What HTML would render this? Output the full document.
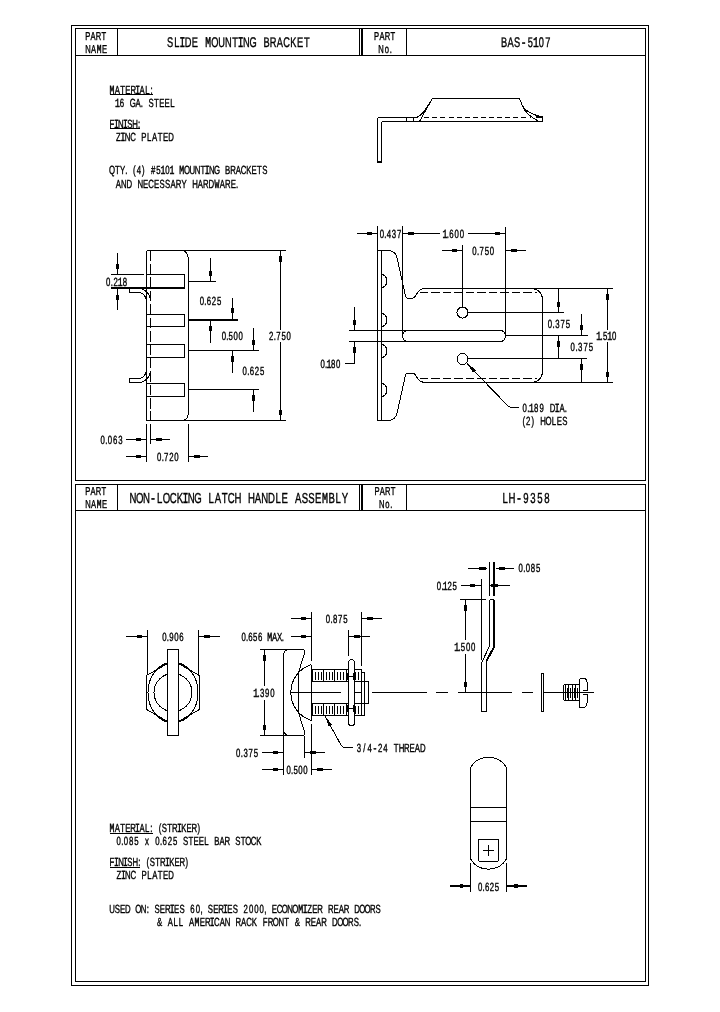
<!DOCTYPE html>
<html><head><meta charset="utf-8"><title>BAS-5107 / LH-9358</title>
<style>
html,body{margin:0;padding:0;background:#fff;}
body{width:720px;height:1012px;overflow:hidden;font-family:"Liberation Sans",sans-serif;}
svg{display:block;}
.t tspan.m{font-family:"Liberation Mono",monospace;stroke-width:0.55px;}
.t text{font-family:"Liberation Sans",sans-serif;fill:#000;stroke:#000;stroke-width:0.4px;text-anchor:middle;white-space:pre;text-rendering:geometricPrecision;}
</style></head><body>
<svg width="720" height="1012" viewBox="0 0 720 1012">
<rect x="0" y="0" width="720" height="1012" fill="#fff"/>
<g class="g" stroke="#000" stroke-width="1" fill="none" shape-rendering="crispEdges">
<rect x="71.5" y="25.5" width="577" height="960"/>
<rect x="75.5" y="28.5" width="570" height="452"/>
<rect x="75.5" y="484.5" width="570" height="497"/>
<line x1="75.5" y1="55.5" x2="645.5" y2="55.5"/>
<line x1="117.5" y1="28.5" x2="117.5" y2="55.5"/>
<line x1="359.5" y1="28.5" x2="359.5" y2="55.5"/>
<line x1="406.5" y1="28.5" x2="406.5" y2="55.5"/>
<line x1="362" y1="28.5" x2="362" y2="55.5" stroke-width="2"/>
<line x1="75.5" y1="510.5" x2="645.5" y2="510.5"/>
<line x1="117.5" y1="484.5" x2="117.5" y2="510.5"/>
<line x1="359.5" y1="484.5" x2="359.5" y2="510.5"/>
<line x1="406.5" y1="484.5" x2="406.5" y2="510.5"/>
<line x1="362" y1="484.5" x2="362" y2="510.5" stroke-width="2"/>
<line x1="146.5" y1="250.5" x2="146.5" y2="420.5"/>
<line x1="146.5" y1="250.5" x2="286" y2="250.5"/>
<line x1="146.5" y1="420.5" x2="286" y2="420.5"/>
<path d="M181.5,250.5 Q188.5,251 188.5,261.5 L188.5,411.5 Q188.5,419 183.5,420.5"/>
<line x1="150.5" y1="250.5" x2="150.5" y2="420.5" stroke-dasharray="10.7 2.7"/>
<line x1="146.5" y1="274.5" x2="184.5" y2="274.5"/>
<line x1="146.5" y1="288.5" x2="184.5" y2="288.5"/>
<line x1="184.5" y1="274.5" x2="184.5" y2="288.5"/>
<line x1="146.5" y1="314.5" x2="184.5" y2="314.5"/>
<line x1="146.5" y1="326.5" x2="184.5" y2="326.5"/>
<line x1="184.5" y1="314.5" x2="184.5" y2="326.5"/>
<line x1="146.5" y1="344.5" x2="184.5" y2="344.5"/>
<line x1="146.5" y1="357.5" x2="184.5" y2="357.5"/>
<line x1="184.5" y1="344.5" x2="184.5" y2="357.5"/>
<line x1="146.5" y1="383.5" x2="184.5" y2="383.5"/>
<line x1="146.5" y1="396.5" x2="184.5" y2="396.5"/>
<line x1="184.5" y1="383.5" x2="184.5" y2="396.5"/>
<line x1="111" y1="288" x2="184.5" y2="288" stroke-width="2"/>
<line x1="111" y1="274.5" x2="143.5" y2="274.5"/>
<line x1="117.5" y1="252.5" x2="117.5" y2="274.5"/>
<polygon fill="#000" stroke="none" points="117.5,274.5 115.55,263.5 119.45,263.5"/>
<line x1="117.5" y1="310" x2="117.5" y2="289"/>
<polygon fill="#000" stroke="none" points="117.5,289 115.55,300 119.45,300"/>
<line x1="188.5" y1="281.5" x2="216" y2="281.5"/>
<line x1="188.5" y1="320" x2="238" y2="320" stroke-width="2"/>
<line x1="188.5" y1="350.5" x2="259" y2="350.5"/>
<line x1="188.5" y1="389.5" x2="259" y2="389.5"/>
<line x1="210.5" y1="258" x2="210.5" y2="281.5"/>
<polygon fill="#000" stroke="none" points="210.5,281.5 208.55,270.5 212.45,270.5"/>
<line x1="210.5" y1="342.5" x2="210.5" y2="320"/>
<polygon fill="#000" stroke="none" points="210.5,320 208.55,331 212.45,331"/>
<line x1="232.5" y1="298" x2="232.5" y2="319"/>
<polygon fill="#000" stroke="none" points="232.5,319 230.55,308 234.45,308"/>
<line x1="232.5" y1="372.5" x2="232.5" y2="350.5"/>
<polygon fill="#000" stroke="none" points="232.5,350.5 230.55,361.5 234.45,361.5"/>
<line x1="253.5" y1="327.5" x2="253.5" y2="350.5"/>
<polygon fill="#000" stroke="none" points="253.5,350.5 251.55,339.5 255.45,339.5"/>
<line x1="253.5" y1="411.5" x2="253.5" y2="389.5"/>
<polygon fill="#000" stroke="none" points="253.5,389.5 251.55,400.5 255.45,400.5"/>
<line x1="280.5" y1="330" x2="280.5" y2="250.5"/>
<polygon fill="#000" stroke="none" points="280.5,250.5 278.55,261.5 282.45,261.5"/>
<line x1="280.5" y1="341.5" x2="280.5" y2="420.5"/>
<polygon fill="#000" stroke="none" points="280.5,420.5 278.55,409.5 282.45,409.5"/>
<line x1="146.5" y1="424" x2="146.5" y2="461.5"/>
<line x1="150.5" y1="424" x2="150.5" y2="444"/>
<line x1="188.5" y1="424" x2="188.5" y2="461.5"/>
<line x1="126" y1="439.5" x2="146.5" y2="439.5"/>
<polygon fill="#000" stroke="none" points="146.5,439.5 135.5,437.55 135.5,441.45"/>
<line x1="170" y1="439.5" x2="150.5" y2="439.5"/>
<polygon fill="#000" stroke="none" points="150.5,439.5 161.5,437.55 161.5,441.45"/>
<line x1="126" y1="456.5" x2="146.5" y2="456.5"/>
<polygon fill="#000" stroke="none" points="146.5,456.5 135.5,454.55 135.5,458.45"/>
<line x1="208" y1="456.5" x2="188.5" y2="456.5"/>
<polygon fill="#000" stroke="none" points="188.5,456.5 199.5,454.55 199.5,458.45"/>
<path d="M138.3,288.5 A12,12 0 0 1 150.3,300.5 M146.3,300.5 A8,8 0 0 0 138.3,292.5 L129.5,292.5 L129.5,288.5"/>
<path d="M138.3,382.5 A12,12 0 0 0 150.3,370.5 M146.3,370.5 A8,8 0 0 1 138.3,378.5 L129.5,378.5 L129.5,382.5 L138.3,382.5"/>
<line x1="377.5" y1="117.5" x2="377.5" y2="162"/>
<line x1="381.5" y1="121.5" x2="381.5" y2="162"/>
<line x1="377" y1="162" x2="382" y2="162" stroke-width="2"/>
<line x1="377.5" y1="117.5" x2="418" y2="117.5"/>
<line x1="381.5" y1="121.5" x2="542.5" y2="121.5"/>
<line x1="406.5" y1="117.5" x2="406.5" y2="121.5"/>
<line x1="413.5" y1="117.5" x2="413.5" y2="121.5"/>
<line x1="424.2" y1="117.5" x2="531" y2="117.5" stroke-dasharray="5 3.1"/>
<line x1="432.5" y1="98.5" x2="519.5" y2="98.5"/>
<path d="M432.5,98.5 L425,110 Q421.5,115.5 417,117"/>
<path d="M432.5,98.5 L427.5,107 L419.5,121.5"/>
<path d="M519.5,98.5 L522.5,106 Q527,113.5 542.5,117"/>
<path d="M522.5,106 Q526,115 539,121.5"/>
<line x1="542.5" y1="117" x2="542.5" y2="121.5"/>
<line x1="536" y1="117" x2="542.5" y2="117" stroke-width="2"/>
<line x1="377.5" y1="226" x2="377.5" y2="420.5"/>
<line x1="381.5" y1="250.5" x2="381.5" y2="420.5"/>
<path d="M377.5,250.5 L389,250.5 Q395,251 397,257.5 L405.4,295.6 Q405.9,298 407.5,298 L413,298 Q414,298 414.8,296.8 L418.5,291.5 Q420.8,288.5 426,288.5 L531.5,288.5 A11,11 0 0 1 542.5,299.5 L542.5,335.5"/>
<path d="M 377.5,420.5 L 389,420.5 Q 395,420 397,413.5 L 405.4,375.4 Q 405.9,373 407.5,373 L 413,373 Q 414,373 414.8,374.2 L 418.5,379.5 Q 420.8,382.5 426,382.5 L 531.5,382.5 A11,11 0 0 0 542.5,371.5 L 542.5,335.5"/>
<line x1="532.5" y1="288.5" x2="613" y2="288.5"/>
<line x1="532.5" y1="382.5" x2="613" y2="382.5"/>
<line x1="419.5" y1="292.5" x2="536.5" y2="292.5" stroke-dasharray="8.5 3"/>
<line x1="419.5" y1="378.5" x2="536.5" y2="378.5" stroke-dasharray="8.5 3"/>
<path d="M381.5,274.5 A5.5,6.5 0 0 1 381.5,287.5"/>
<path d="M381.5,313.5 A5.5,6.5 0 0 1 381.5,326.5"/>
<path d="M381.5,344.5 A5.5,6.5 0 0 1 381.5,357.5"/>
<path d="M381.5,383.5 A5.5,6.5 0 0 1 381.5,396.5"/>
<line x1="402.5" y1="226" x2="402.5" y2="336"/>
<line x1="505.5" y1="227" x2="505.5" y2="336"/>
<line x1="349" y1="330.5" x2="500.5" y2="330.5"/>
<line x1="349" y1="341.5" x2="500.5" y2="341.5"/>
<path d="M500.5,330.5 A5,5.5 0 0 1 500.5,341.5"/>
<path d="M407.5,330.5 A5,5.5 0 0 0 407.5,341.5"/>
<line x1="505.5" y1="335.5" x2="587.5" y2="335.5"/>
<line x1="354.5" y1="307" x2="354.5" y2="330.5"/>
<polygon fill="#000" stroke="none" points="354.5,330.5 352.55,319.5 356.45,319.5"/>
<line x1="354.5" y1="363.5" x2="354.5" y2="341.5"/>
<polygon fill="#000" stroke="none" points="354.5,341.5 352.55,352.5 356.45,352.5"/>
<line x1="344.5" y1="363.5" x2="354.5" y2="363.5"/>
<circle cx="462.5" cy="312.5" r="5.5"/>
<circle cx="462.5" cy="359" r="5.5"/>
<line x1="468" y1="312.5" x2="564" y2="312.5"/>
<line x1="468" y1="358.5" x2="587" y2="358.5"/>
<line x1="462.5" y1="244.5" x2="462.5" y2="307"/>
<line x1="357" y1="233.5" x2="377.5" y2="233.5"/>
<polygon fill="#000" stroke="none" points="377.5,233.5 366.5,231.55 366.5,235.45"/>
<line x1="440" y1="233.5" x2="402.5" y2="233.5"/>
<polygon fill="#000" stroke="none" points="402.5,233.5 413.5,231.55 413.5,235.45"/>
<line x1="467.5" y1="233.5" x2="505.5" y2="233.5"/>
<polygon fill="#000" stroke="none" points="505.5,233.5 494.5,231.55 494.5,235.45"/>
<line x1="442" y1="250.5" x2="462.5" y2="250.5"/>
<polygon fill="#000" stroke="none" points="462.5,250.5 451.5,248.55 451.5,252.45"/>
<line x1="525.5" y1="250.5" x2="505.5" y2="250.5"/>
<polygon fill="#000" stroke="none" points="505.5,250.5 516.5,248.55 516.5,252.45"/>
<line x1="558.5" y1="288.5" x2="558.5" y2="312.5"/>
<polygon fill="#000" stroke="none" points="558.5,312.5 556.55,301.5 560.45,301.5"/>
<line x1="558.5" y1="358.5" x2="558.5" y2="335.5"/>
<polygon fill="#000" stroke="none" points="558.5,335.5 556.55,346.5 560.45,346.5"/>
<line x1="581.5" y1="313.5" x2="581.5" y2="335.5"/>
<polygon fill="#000" stroke="none" points="581.5,335.5 579.55,324.5 583.45,324.5"/>
<line x1="581.5" y1="382.5" x2="581.5" y2="358.5"/>
<polygon fill="#000" stroke="none" points="581.5,358.5 579.55,369.5 583.45,369.5"/>
<line x1="607.5" y1="330" x2="607.5" y2="288.5"/>
<polygon fill="#000" stroke="none" points="607.5,288.5 605.55,299.5 609.45,299.5"/>
<line x1="607.5" y1="341.5" x2="607.5" y2="382.5"/>
<polygon fill="#000" stroke="none" points="607.5,382.5 605.55,371.5 609.45,371.5"/>
<path d="M467,363.5 L507,405 Q509,407.5 512,407.5 L518.5,407.5"/>
<polygon fill="#000" stroke="none" points="467,363.5 473.23,372.77 476.04,370.07"/>
<line x1="147.5" y1="630" x2="147.5" y2="675"/>
<line x1="198.5" y1="630" x2="198.5" y2="675"/>
<line x1="126.25" y1="636.5" x2="147.5" y2="636.5"/>
<polygon fill="#000" stroke="none" points="147.5,636.5 136.5,634.55 136.5,638.45"/>
<line x1="220" y1="636.5" x2="198.5" y2="636.5"/>
<polygon fill="#000" stroke="none" points="198.5,636.5 209.5,634.55 209.5,638.45"/>
<path d="M173,660.5 L199.5,675.5 L199.5,709.5 L173,724.5 L146.5,709.5 L146.5,675.5 Z"/>
<ellipse cx="173" cy="692.5" rx="25" ry="30.3"/>
<circle cx="173" cy="692.5" r="19"/>
<rect x="167.5" y="649.5" width="11" height="86" fill="#fff"/>
<line x1="259.5" y1="649.5" x2="303" y2="649.5"/>
<line x1="259.5" y1="735.5" x2="303" y2="735.5"/>
<line x1="264.5" y1="686" x2="264.5" y2="649.5"/>
<polygon fill="#000" stroke="none" points="264.5,649.5 262.55,660.5 266.45,660.5"/>
<line x1="264.5" y1="700" x2="264.5" y2="735.5"/>
<polygon fill="#000" stroke="none" points="264.5,735.5 262.55,724.5 266.45,724.5"/>
<path d="M283.5,775 L283.5,654.5 Q284,650.5 288.5,649.5 L303,649.5 Q305.5,650 304.5,653 L298.5,672.5 L298.5,712.5 L304.5,732 Q305.5,735 303,735.5 L288.5,735.5 Q284,734.5 283.5,730.5"/>
<line x1="304.5" y1="735.5" x2="304.5" y2="757.5"/>
<path d="M311.5,664.5 A29.3,29.3 0 0 0 311.5,720.5"/>
<line x1="311.5" y1="612" x2="311.5" y2="660.5"/>
<line x1="311.5" y1="664.5" x2="311.5" y2="720.5"/>
<line x1="311.5" y1="724" x2="311.5" y2="775"/>
<line x1="290" y1="692.5" x2="340.5" y2="692.5"/>
<line x1="350" y1="692.5" x2="361.5" y2="692.5"/>
<line x1="311.5" y1="669.5" x2="361.5" y2="669.5"/>
<line x1="311.5" y1="681.5" x2="361.5" y2="681.5"/>
<line x1="323.5" y1="669.5" x2="323.5" y2="681.5"/>
<line x1="334.5" y1="669.5" x2="334.5" y2="681.5"/>
<line x1="346.5" y1="669.5" x2="346.5" y2="681.5"/>
<line x1="315.5" y1="672" x2="315.5" y2="679.5"/>
<line x1="318.5" y1="672" x2="318.5" y2="679.5"/>
<line x1="321.5" y1="672" x2="321.5" y2="679.5"/>
<line x1="326.5" y1="672" x2="326.5" y2="679.5"/>
<line x1="329.5" y1="672" x2="329.5" y2="679.5"/>
<line x1="332.5" y1="672" x2="332.5" y2="679.5"/>
<line x1="337.5" y1="672" x2="337.5" y2="679.5"/>
<line x1="340.5" y1="672" x2="340.5" y2="679.5"/>
<line x1="343.5" y1="672" x2="343.5" y2="679.5"/>
<line x1="358.5" y1="672" x2="358.5" y2="679.5"/>
<line x1="312.5" y1="669.5" x2="312.5" y2="681.5"/>
<line x1="355.5" y1="671.5" x2="355.5" y2="679.5"/>
<line x1="311.5" y1="703.5" x2="361.5" y2="703.5"/>
<line x1="311.5" y1="715.5" x2="361.5" y2="715.5"/>
<line x1="323.5" y1="703.5" x2="323.5" y2="715.5"/>
<line x1="334.5" y1="703.5" x2="334.5" y2="715.5"/>
<line x1="346.5" y1="703.5" x2="346.5" y2="715.5"/>
<line x1="315.5" y1="706" x2="315.5" y2="713.5"/>
<line x1="318.5" y1="706" x2="318.5" y2="713.5"/>
<line x1="321.5" y1="706" x2="321.5" y2="713.5"/>
<line x1="326.5" y1="706" x2="326.5" y2="713.5"/>
<line x1="329.5" y1="706" x2="329.5" y2="713.5"/>
<line x1="332.5" y1="706" x2="332.5" y2="713.5"/>
<line x1="337.5" y1="706" x2="337.5" y2="713.5"/>
<line x1="340.5" y1="706" x2="340.5" y2="713.5"/>
<line x1="343.5" y1="706" x2="343.5" y2="713.5"/>
<line x1="358.5" y1="706" x2="358.5" y2="713.5"/>
<line x1="312.5" y1="703.5" x2="312.5" y2="715.5"/>
<line x1="355.5" y1="705.5" x2="355.5" y2="713.5"/>
<line x1="361.5" y1="669.5" x2="361.5" y2="715.5"/>
<line x1="361.5" y1="612" x2="361.5" y2="665.5"/>
<rect x="348.5" y="659.5" width="6" height="66" fill="#fff" rx="3"/>
<line x1="348.5" y1="630" x2="348.5" y2="655.5"/>
<line x1="348.5" y1="676.5" x2="354.5" y2="676.5"/>
<line x1="348" y1="673" x2="348" y2="680" stroke-width="2"/>
<line x1="354" y1="673" x2="354" y2="680" stroke-width="2"/>
<line x1="348.5" y1="708.5" x2="354.5" y2="708.5"/>
<line x1="348" y1="705" x2="348" y2="712" stroke-width="2"/>
<line x1="354" y1="705" x2="354" y2="712" stroke-width="2"/>
<path d="M361.5,672.5 L364.5,672.5 L364.5,715.5 L361.5,715.5"/>
<path d="M364.5,681.5 L368.5,681.5 L368.5,703.5 L364.5,703.5"/>
<line x1="354.5" y1="681.5" x2="368.5" y2="681.5"/>
<line x1="354.5" y1="703.5" x2="368.5" y2="703.5"/>
<line x1="291.25" y1="618.5" x2="311.5" y2="618.5"/>
<polygon fill="#000" stroke="none" points="311.5,618.5 300.5,616.55 300.5,620.45"/>
<line x1="381.7" y1="618.5" x2="361.5" y2="618.5"/>
<polygon fill="#000" stroke="none" points="361.5,618.5 372.5,616.55 372.5,620.45"/>
<line x1="291.25" y1="636.5" x2="311.5" y2="636.5"/>
<polygon fill="#000" stroke="none" points="311.5,636.5 300.5,634.55 300.5,638.45"/>
<line x1="369.8" y1="636.5" x2="348.5" y2="636.5"/>
<polygon fill="#000" stroke="none" points="348.5,636.5 359.5,634.55 359.5,638.45"/>
<line x1="262" y1="752.5" x2="283.5" y2="752.5"/>
<polygon fill="#000" stroke="none" points="283.5,752.5 272.5,750.55 272.5,754.45"/>
<line x1="324.8" y1="752.5" x2="304.5" y2="752.5"/>
<polygon fill="#000" stroke="none" points="304.5,752.5 315.5,750.55 315.5,754.45"/>
<line x1="262" y1="769.5" x2="283.5" y2="769.5"/>
<polygon fill="#000" stroke="none" points="283.5,769.5 272.5,767.55 272.5,771.45"/>
<line x1="332" y1="769.5" x2="311.5" y2="769.5"/>
<polygon fill="#000" stroke="none" points="311.5,769.5 322.5,767.55 322.5,771.45"/>
<path d="M325,716 L341,745 Q342.5,747.5 345,747.5 L353,747.5"/>
<polygon fill="#000" stroke="none" points="325,716 328.58,726.58 332,724.71"/>
<line x1="489.5" y1="562" x2="489.5" y2="595.5"/>
<line x1="494" y1="562" x2="494" y2="595.5" stroke-width="2"/>
<line x1="468.3" y1="568.5" x2="487" y2="568.5"/>
<line x1="479" y1="568.5" x2="486" y2="568.5" stroke-width="3"/>
<line x1="496" y1="568.5" x2="513.8" y2="568.5"/>
<line x1="499" y1="568.5" x2="504.5" y2="568.5" stroke-width="3"/>
<line x1="461.2" y1="585.5" x2="481" y2="585.5"/>
<polygon fill="#000" stroke="none" points="481,585.5 470,583.55 470,587.45"/>
<line x1="481.5" y1="579" x2="481.5" y2="659.5"/>
<line x1="490" y1="585.5" x2="509.7" y2="585.5"/>
<line x1="491" y1="585.5" x2="498" y2="585.5" stroke-width="3"/>
<path d="M489.5,599.5 L489.5,646 L481.5,663 L481.5,711.5 L486.5,711.5 L486.5,661"/>
<path d="M489.5,599.5 L493.5,599.5"/>
<path d="M494,599.5 L494,647 L486.5,661" stroke-width="2"/>
<line x1="460" y1="599.5" x2="486" y2="599.5"/>
<line x1="465.5" y1="639.5" x2="465.5" y2="599.5"/>
<polygon fill="#000" stroke="none" points="465.5,599.5 463.55,610.5 467.45,610.5"/>
<line x1="465.5" y1="653.5" x2="465.5" y2="692.5"/>
<polygon fill="#000" stroke="none" points="465.5,692.5 463.55,681.5 467.45,681.5"/>
<line x1="372" y1="692.5" x2="427" y2="692.5"/>
<line x1="435.5" y1="692.5" x2="448" y2="692.5"/>
<line x1="457.5" y1="692.5" x2="511.5" y2="692.5"/>
<line x1="521.5" y1="692.5" x2="532.5" y2="692.5"/>
<line x1="543.5" y1="692.5" x2="594" y2="692.5"/>
<rect x="541.5" y="673.5" width="2" height="38"/>
<path d="M579.5,684.5 L565.5,684.5 Q563.5,684.5 563.5,686.5 L563.5,698.5 Q563.5,700.5 565.5,700.5 L579.5,700.5"/>
<line x1="565.5" y1="684.5" x2="565.5" y2="700.5"/>
<line x1="568.5" y1="684.5" x2="568.5" y2="700.5"/>
<line x1="572.5" y1="684.5" x2="572.5" y2="700.5"/>
<line x1="575.5" y1="684.5" x2="575.5" y2="700.5"/>
<line x1="567.5" y1="687.5" x2="567.5" y2="697.5"/>
<line x1="570.5" y1="687.5" x2="570.5" y2="697.5"/>
<line x1="574.5" y1="687.5" x2="574.5" y2="697.5"/>
<line x1="577.5" y1="687.5" x2="577.5" y2="697.5"/>
<path d="M579.5,678.5 L584,678.5 Q587,679 587,682 L587,690 L582.5,690 M582.5,694.5 L587,694.5 L587,703 Q587,706.5 584,707.5 L579.5,707.5"/>
<line x1="579.5" y1="678.5" x2="579.5" y2="707.5"/>
<path d="M470.5,767.5 A21,21 0 0 1 506.5,767.5 L506.5,859 A21,21 0 0 1 470.5,859 Z"/>
<line x1="470.5" y1="807.5" x2="506.5" y2="807.5"/>
<line x1="470.5" y1="821.5" x2="506.5" y2="821.5"/>
<path d="M478.5,839.5 L498.5,839.5 L498.5,859.5 Q498.5,861.5 496.5,861.5 L480.5,861.5 Q478.5,861.5 478.5,859.5 Z"/>
<line x1="483" y1="850.5" x2="494" y2="850.5"/>
<line x1="488.5" y1="845" x2="488.5" y2="856"/>
<line x1="470.5" y1="863" x2="470.5" y2="892"/>
<line x1="506.5" y1="863" x2="506.5" y2="892"/>
<line x1="450" y1="886" x2="470.5" y2="886" stroke-width="2"/>
<polygon fill="#000" stroke="none" points="470.5,886 459.5,883.9 459.5,888.1"/>
<line x1="506.5" y1="886" x2="527" y2="886" stroke-width="2"/>
<polygon fill="#000" stroke="none" points="506.5,886 517.5,883.9 517.5,888.1"/>
<line x1="110" y1="94.5" x2="152.5" y2="94.5"/>
<line x1="110" y1="128.5" x2="140" y2="128.5"/>
<line x1="110" y1="833.5" x2="152.5" y2="833.5"/>
<line x1="110" y1="867.5" x2="140" y2="867.5"/>
</g>
<g class="t" style="filter:grayscale(1)">
<text transform="translate(0 286) scale(0.66 1)" x="163.73 169.5 175.27 182.29 189.3" y="0" font-size="11.8">0.2<tspan class="m" font-size="12.33">1</tspan>8</text>
<text transform="translate(0 305) scale(0.66 1)" x="305.92 311.27 316.63 324.29 331.96" y="0" font-size="11.8">0.625</text>
<text transform="translate(0 340) scale(0.66 1)" x="339.19 344.41 349.63 357.12 364.6" y="0" font-size="11.8">0.500</text>
<text transform="translate(0 374.7) scale(0.66 1)" x="370.66 376.09 381.52 389.29 397.07" y="0" font-size="11.8">0.625</text>
<text transform="translate(0 340) scale(0.66 1)" x="410.98 416.43 421.88 429.7 437.51" y="0" font-size="11.8">2.750</text>
<text transform="translate(0 443.5) scale(0.66 1)" x="155.55 161.06 166.56 174.44 182.33" y="0" font-size="11.8">0.063</text>
<text transform="translate(0 460.5) scale(0.66 1)" x="241.23 246.58 251.93 259.59 267.26" y="0" font-size="11.8">0.720</text>
<text transform="translate(0 367.5) scale(0.66 1)" x="488.91 494.19 498.32 504.74 512.3" y="0" font-size="11.8">0.<tspan class="m" font-size="12.33">1</tspan>80</text>
<text transform="translate(0 237.5) scale(0.66 1)" x="578.65 584 589.35 597.02 604.68" y="0" font-size="11.8">0.437</text>
<text transform="translate(0 237.5) scale(0.66 1)" x="674.15 678.51 684.08 692.05 700.02" y="0" font-size="11.8"><tspan class="m" font-size="12.33">1</tspan>.600</text>
<text transform="translate(0 254.5) scale(0.66 1)" x="718.87 724.35 729.83 737.68 745.52" y="0" font-size="11.8">0.750</text>
<text transform="translate(0 327.5) scale(0.66 1)" x="833.33 838.94 844.55 852.58 860.61" y="0" font-size="11.8">0.375</text>
<text transform="translate(0 351) scale(0.66 1)" x="867.84 873.51 879.18 887.3 895.42" y="0" font-size="11.8">0.375</text>
<text transform="translate(0 339.5) scale(0.66 1)" x="907.12 911.5 917.09 923.89 930.69" y="0" font-size="11.8"><tspan class="m" font-size="12.33">1</tspan>.5<tspan class="m" font-size="12.33">1</tspan>0</text>
<text transform="translate(0 411.5) scale(0.66 1)" x="794.82 800.64 805.21 812.29 820.64 828.98 837.33 844.41 851.5 857.32" y="0" font-size="11.8">0.<tspan class="m" font-size="12.33">1</tspan>89 D<tspan class="m" font-size="12.33">I</tspan>A.</text>
<text transform="translate(0 424.5) scale(0.66 1)" x="793.47 800.45 807.43 814.4 822.71 831.02 839.33 847.64 855.95" y="0" font-size="11.8">(2) HOLES</text>
<text transform="translate(0 640.5) scale(0.66 1)" x="249.07 254.36 259.65 267.22 274.79" y="0" font-size="11.8">0.906</text>
<text transform="translate(0 697) scale(0.66 1)" x="387.37 391.62 397.05 404.82 412.6" y="0" font-size="11.8"><tspan class="m" font-size="12.33">1</tspan>.390</text>
<text transform="translate(0 622.5) scale(0.66 1)" x="496.87 502.3 507.73 515.5 523.28" y="0" font-size="11.8">0.875</text>
<text transform="translate(0 640.5) scale(0.66 1)" x="369.07 374.21 379.35 386.72 394.08 401.45 408.81 416.18 423.54 428.69" y="0" font-size="11.8">0.656 <tspan class="m" font-size="12.33">M</tspan>AX.</text>
<text transform="translate(0 756.5) scale(0.66 1)" x="360.95 366.49 372.04 379.97 387.91" y="0" font-size="11.8">0.375</text>
<text transform="translate(0 773.5) scale(0.66 1)" x="437.51 442.71 447.9 455.35 462.8" y="0" font-size="11.8">0.500</text>
<text transform="translate(0 751.5) scale(0.66 1)" x="543.8 551.87 559.93 568 576.07 584.13 592.2 600.26 608.33 616.39 624.46 632.53 640.59" y="0" font-size="11.8">3/4<tspan class="m" font-size="12.33">-</tspan>24 THREAD</text>
<text transform="translate(0 572) scale(0.66 1)" x="788.98 794.38 799.79 807.52 815.26" y="0" font-size="11.8">0.085</text>
<text transform="translate(0 589.5) scale(0.66 1)" x="665.05 670.46 674.7 681.29 689.04" y="0" font-size="11.8">0.<tspan class="m" font-size="12.33">1</tspan>25</text>
<text transform="translate(0 650.5) scale(0.66 1)" x="692.03 696.21 701.54 709.18 716.82" y="0" font-size="11.8"><tspan class="m" font-size="12.33">1</tspan>.500</text>
<text transform="translate(0 890.5) scale(0.66 1)" x="727.52 732.74 737.97 745.45 752.93" y="0" font-size="11.8">0.625</text>
<text transform="translate(0 39.7) scale(0.66 1)" x="133.05 141.12 149.19 157.26" y="0" font-size="11.5">PART</text>
<text transform="translate(0 52.8) scale(0.66 1)" x="133.18 141.62 150.05 158.48" y="0" font-size="11.5">NA<tspan class="m" font-size="12.02">M</tspan>E</text>
<text transform="translate(0 47) scale(0.66 1)" x="257.62 267.77 276.4 285.02 295.17 305.33 315.48 325.63 335.79 345.94 356.1 364.72 373.34 383.49 393.65 403.8 413.96 424.11 434.27 444.42 454.57 464.73" y="0" font-size="14">SL<tspan class="m" font-size="14.63">I</tspan>DE <tspan class="m" font-size="14.63">M</tspan>OUNT<tspan class="m" font-size="14.63">I</tspan>NG BRACKET</text>
<text transform="translate(0 39.5) scale(0.66 1)" x="570.55 578.82 587.09 595.36" y="0" font-size="11.5">PART</text>
<text transform="translate(0 52.5) scale(0.66 1)" x="577.19 585.99 592.14" y="0" font-size="11.5">No.</text>
<text transform="translate(0 47) scale(0.66 1)" x="763.88 773.76 783.64 793.52 803.4 811.79 820.18 830.06" y="0" font-size="14">BAS<tspan class="m" font-size="14.63">-</tspan>5<tspan class="m" font-size="14.63">1</tspan>07</text>
<text transform="translate(0 495) scale(0.66 1)" x="133.05 141.12 149.19 157.26" y="0" font-size="11.5">PART</text>
<text transform="translate(0 508) scale(0.66 1)" x="133.18 141.62 150.05 158.48" y="0" font-size="11.5">NA<tspan class="m" font-size="12.02">M</tspan>E</text>
<text transform="translate(0 502.5) scale(0.66 1)" x="201.55 211.68 221.81 231.94 242.08 252.21 262.34 272.47 281.07 289.67 299.8 309.94 320.07 330.2 340.33 350.46 360.59 370.72 380.85 390.99 401.12 411.25 421.38 431.51 441.64 451.77 461.9 472.04 482.17 492.3 502.43 512.56 522.69" y="0" font-size="14.5">NON<tspan class="m" font-size="15.15">-</tspan>LOCK<tspan class="m" font-size="15.15">I</tspan>NG LATCH HANDLE ASSE<tspan class="m" font-size="15.15">M</tspan>BLY</text>
<text transform="translate(0 495) scale(0.66 1)" x="571.23 579.3 587.37 595.44" y="0" font-size="11.5">PART</text>
<text transform="translate(0 508) scale(0.66 1)" x="578.26 586.89 592.91" y="0" font-size="11.5">No.</text>
<text transform="translate(0 502.5) scale(0.66 1)" x="765.34 775.88 786.43 796.97 807.51 818.05 828.6" y="0" font-size="14.5">LH<tspan class="m" font-size="15.15">-</tspan>9358</text>
<text transform="translate(0 93.75) scale(0.66 1)" x="169.7 177.73 185.76 193.79 201.82 208.64 215.45 223.48 229.77" y="0" font-size="11.8"><tspan class="m" font-size="12.33">M</tspan>ATER<tspan class="m" font-size="12.33">I</tspan>AL:</text>
<text transform="translate(0 107) scale(0.66 1)" x="177.98 184.89 193.02 201.16 209.29 214.97 220.65 228.78 236.92 245.05 253.19 261.32" y="0" font-size="11.8"><tspan class="m" font-size="12.33">1</tspan>6 GA. STEEL</text>
<text transform="translate(0 127.5) scale(0.66 1)" x="169.67 176.42 183.17 189.92 196.67 204.62 210.85" y="0" font-size="11.8">F<tspan class="m" font-size="12.33">I</tspan>N<tspan class="m" font-size="12.33">I</tspan>SH:</text>
<text transform="translate(0 140.75) scale(0.66 1)" x="179.24 186.22 193.21 201.44 209.66 217.89 226.11 234.34 242.57 250.79 259.02" y="0" font-size="11.8">Z<tspan class="m" font-size="12.33">I</tspan>NC PLATED</text>
<text transform="translate(0 174.25) scale(0.66 1)" x="169.69 177.72 185.74 191.34 196.94 203.68 210.41 217.15 223.88 231.91 239.93 246.74 253.55 260.36 267.18 275.2 283.22 291.24 299.27 307.29 314.1 320.91 328.94 336.96 344.98 353 361.03 369.05 377.07 385.09 393.12 401.14" y="0" font-size="11.8">QTY. (4) #5<tspan class="m" font-size="12.33">1</tspan>0<tspan class="m" font-size="12.33">1</tspan> <tspan class="m" font-size="12.33">M</tspan>OUNT<tspan class="m" font-size="12.33">I</tspan>NG BRACKETS</text>
<text transform="translate(0 187.5) scale(0.66 1)" x="179.27 187.56 195.85 204.15 212.44 220.73 229.03 237.32 245.62 253.91 262.2 270.5 278.79 287.08 295.38 303.67 311.96 320.26 328.55 336.85 345.14 353.43 359.22" y="0" font-size="11.8">AND NECESSARY HARD<tspan class="m" font-size="12.33">W</tspan>ARE.</text>
<text transform="translate(0 832) scale(0.66 1)" x="169.68 177.67 185.65 193.64 201.62 208.4 215.18 223.17 229.42 235.68 242.38 249.09 257.07 265.06 271.84 278.62 286.61 294.59 301.3" y="0" font-size="11.8"><tspan class="m" font-size="12.33">M</tspan>ATER<tspan class="m" font-size="12.33">I</tspan>AL: (STR<tspan class="m" font-size="12.33">I</tspan>KER)</text>
<text transform="translate(0 845) scale(0.66 1)" x="179.88 185.41 190.94 198.86 206.78 214.7 222.62 230.54 238.46 243.99 249.52 257.44 265.36 273.28 281.2 289.12 297.04 304.96 312.88 320.8 328.72 336.64 344.57 352.49 360.41 368.33 376.25 384.17 392.09" y="0" font-size="11.8">0.085 x 0.625 STEEL BAR STOCK</text>
<text transform="translate(0 865.75) scale(0.66 1)" x="169.69 176.48 183.27 190.06 196.85 204.85 211.12 217.38 224.1 230.81 238.81 246.81 253.61 260.4 268.4 276.4 283.11" y="0" font-size="11.8">F<tspan class="m" font-size="12.33">I</tspan>N<tspan class="m" font-size="12.33">I</tspan>SH: (STR<tspan class="m" font-size="12.33">I</tspan>KER)</text>
<text transform="translate(0 878.75) scale(0.66 1)" x="179.97 186.89 193.82 201.97 210.12 218.28 226.43 234.58 242.74 250.89 259.04" y="0" font-size="11.8">Z<tspan class="m" font-size="12.33">I</tspan>NC PLATED</text>
<text transform="translate(0 913) scale(0.66 1)" x="169.68 177.68 185.67 193.67 201.66 209.66 217.65 223.91 230.17 238.17 246.16 254.16 260.94 267.73 275.73 283.72 291.72 299.71 305.29 310.87 318.87 326.86 334.86 341.65 348.44 356.43 364.42 372.42 380.41 388.41 396.4 401.99 407.57 415.56 423.56 431.55 439.55 447.54 455.54 462.32 469.11 477.11 485.1 493.1 501.09 509.09 517.08 525.07 533.07 541.06 549.06 557.05 565.05 573.04" y="0" font-size="11.8">USED ON: SER<tspan class="m" font-size="12.33">I</tspan>ES 60, SER<tspan class="m" font-size="12.33">I</tspan>ES 2000, ECONO<tspan class="m" font-size="12.33">MI</tspan>ZER REAR DOORS</text>
<text transform="translate(0 925.75) scale(0.66 1)" x="241.7 249.82 257.95 266.07 274.19 282.31 290.44 298.56 306.68 314.8 321.7 328.6 336.72 344.84 352.96 361.09 369.21 377.33 385.45 393.57 401.7 409.82 417.94 426.06 434.19 442.31 450.43 458.55 466.68 474.8 482.92 491.04 499.17 507.29 515.41 523.53 531.65 539.78 545.45" y="0" font-size="11.8">&amp; ALL A<tspan class="m" font-size="12.33">M</tspan>ER<tspan class="m" font-size="12.33">I</tspan>CAN RACK FRONT &amp; REAR DOORS.</text>
</g>
</svg>
</body></html>
